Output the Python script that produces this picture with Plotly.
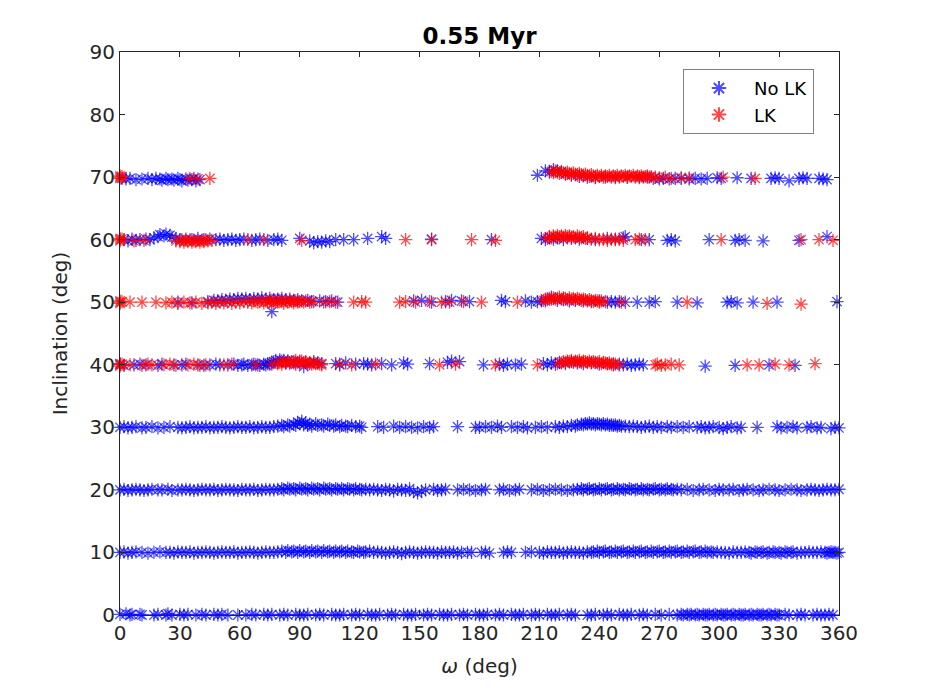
import plotly.graph_objects as go

# ---- data: (omega [deg], inclination [deg]) pairs ----
nolk_00 = [(0,0.1),(1,-0.1),(3,0.2),(5,0),(6,0.1),(8,-0.1),(10,0.1),(11,0),
 (17,0),(19,0.1),(21,-0.1),(23,0),(24,0.2),(26,0),(28,-0.1),(30,0.1),(32,0),(34,0.1),(36,-0.1),(38,0),
 (41,0.1),(43,0),(45,-0.1),(47,0.1),(49,0),(51,0.1),(54,0),(56,-0.1),(59,0),
 (63,0),(66,0.1),(68,0),(70,-0.1),(72,0.1),(74,0),(76,0.1),(78,-0.1),(80,0),(82,0.1),(84,0),(86,-0.1),(88,0.1),(90,0),(92,0),(94,0.1),(96,-0.1),(98,0),(100,0.1),(102,0),(104,-0.1),(106,0.1),(108,0),(110,0),(112,0.1),(114,-0.1),(116,0),(118,0.1),(120,0),(122,-0.1),(124,0.1),(126,0),(128,0),(130,0.1),(132,-0.1),(134,0),(136,0.1),(138,0),(140,-0.1),(142,0.1),(144,0),(146,0),(148,0.1),(150,-0.1),(152,0),(154,0.1),(156,0),(158,-0.1),(160,0.1),(162,0),(164,0),(166,0.1),(168,-0.1),(170,0),(172,0.1),(174,0),(176,-0.1),(178,0.1),(180,0),
 (182,0),(184,0.1),(186,-0.1),(188,0),(190,0.1),(192,0),(194,-0.1),(196,0.1),(198,0),(200,0),(202,0.1),(204,-0.1),(206,0),(208,0.1),(210,0),(212,-0.1),(214,0.1),(216,0),(218,0),(220,0.1),(222,-0.1),(224,0),(226,0.1),(228,0),(231,-0.1),(234,0),(236,0),(238,0.1),(240,-0.1),(242,0),(244,0.1),(246,0),(248,-0.1),(250,0.1),(252,0),(254,0),(256,0.1),(258,-0.1),(260,0),(262,0.1),(264,0),(266,-0.1),(268,0.1),(271,0),(275,0.1),(279,0),
 (281,0.1),(282,0),(283,-0.1),(284,0.1),(285,0),(286,0.1),(287,-0.1),(288,0),(289,0.1),(290,0),(291,-0.1),(292,0.1),(293,0),(294,0),(295,0.1),(296,-0.1),(297,0),(298,0.1),(299,0),(300,-0.1),(301,0.1),(302,0),(303,0),(304,0.1),(305,-0.1),(306,0),(307,0.1),(308,0),(309,-0.1),(310,0.1),(311,0),(312,0),(313,0.1),(314,-0.1),(315,0),(316,0.1),(317,0),(318,-0.1),(319,0.1),(320,0),(321,0),(322,0.1),(323,-0.1),(324,0),(325,0.1),(326,0),(327,-0.1),(328,0.1),(329,0),(330,0),
 (333,0.1),(335,0),(337,-0.1),(339,0),(341,0.1),(343,0),(345,-0.1),(347,0),(349,0.1),(351,0),(353,0),(355,0.1),(357,0)]

nolk_10 = [(0,10),(2,10.1),(4,9.9),(6,10),(8,10.1),(11,10),(14,9.9),(17,10),(20,10.1),(23,10),(25,10),(27,9.9),(29,10.1),(31,10),(33,10),(35,10.1),(37,9.9),(39,10),(41,10),(43,10.1),(45,10),(47,9.9),(49,10),(51,10.1),(53,10),(55,10),(57,10.1),(59,9.9),(61,10),(63,10),(65,10.1),(67,10),(69,9.9),(71,10),(73,10.1),(75,10),(77,10),(79,10.1),
 (81,10.2),(83,10),(84,10.3),(86,10.1),(87,10.2),(89,10),(90,10.3),(92,10.1),(93,10.2),(95,10),(96,10.3),(98,10.1),(99,10.2),(101,10),(102,10.3),(104,10.1),(105,10.2),(107,10),(108,10.2),(110,10.1),(111,10.2),(113,10),(114,10.2),(116,10.1),(117,10),(119,10.2),(120,10.1),(122,10),(123,10.1),(125,10.2),(127,10),(129,10.1),
 (131,10),(133,9.9),(135,10),(137,10.1),(139,10),(141,9.8),(143,10),(145,10.1),(147,10),(149,9.9),(151,10),(153,10.1),(155,10),(157,10),(159,9.9),(161,10.1),(163,10),(165,10),(167,10.1),(169,9.9),(171,10),(174,10),(176,10),
 (181,10),(183,10.1),(185,9.9),(192,10),(194,10.1),(196,10),(203,10),(206,10.1),(210,10),(212,9.9),(214,10.1),(216,10),(218,10),(220,10.1),(222,9.9),(224,10),(226,10.1),(228,10),(230,10),(232,9.9),(234,10.1),
 (236,10),(237,10.1),(239,10.2),(240,10),(242,10.1),(243,10.2),(245,10),(246,10.1),(248,10.2),(249,10),(251,10.1),(252,10.2),(254,10),(255,10.1),(257,10.2),(258,10),(260,10.1),(261,10.2),(263,10),(264,10.1),(266,10.2),(267,10),(269,10.1),(270,10.2),(272,10),(273,10.1),(275,10.2),(276,10),(278,10.1),(279,10.2),(281,10),(282,10.1),(284,10.2),(285,10),(287,10.1),(288,10.2),(290,10),(291,10.1),(293,10.2),(294,10),(296,10.1),(297,10),(299,10.1),(301,10),
 (303,10),(305,9.9),(307,10.1),(309,10),(311,10),(313,10.1),(315,10),(316,9.9),(318,10.1),(319,10),(321,10),(322,10.1),(324,9.9),(325,10),(327,10.1),(328,10),(330,10),(331,9.9),(333,10.1),(334,10),(336,10),(337,10.1),(339,9.9),(341,10),(343,10),(345,10.1),(347,10),(349,10),(351,10.1),(353,10),(354,9.9),(355,10),(356,10.1),(357,10),(358,10),(359,9.9),(360,10)]

nolk_20 = [(0,20),(2,20.1),(4,19.9),(6,20),(8,20.1),(10,20),(12,19.9),(14,20),(16,20.1),(19,20),(21,20),(24,20.1),(26,19.9),(29,20),(31,20),(33,20.1),(35,20),(37,19.9),(39,20),(41,20.1),(43,20),(45,20),(47,20.1),(49,19.9),(51,20),(53,20.1),(55,20),(57,20),(59,19.9),(61,20.1),(63,20),(65,20),(67,20.1),(69,19.9),(71,20),(73,20.1),(75,20),(77,20),(79,20.1),
 (81,20.2),(82,20),(84,20.3),(85,20.1),(87,20.2),(88,20),(90,20.3),(91,20.1),(93,20.2),(94,20),(96,20.3),(97,20.1),(99,20.2),(100,20),(102,20.3),(103,20.1),(105,20.2),(106,20),(108,20.2),(109,20.1),(111,20.2),(112,20),(114,20.2),(115,20.1),(117,20),(118,20.2),(120,20.1),(121,20),(123,20.1),(125,20),(127,20.1),(129,20),
 (131,19.9),(133,20.1),(135,20),(137,19.8),(139,20.1),(141,20),(143,19.9),(145,20.2),(147,19.7),(149,19.5),(151,19.8),(153,20),(157,20.1),(159,19.9),(161,20),(163,20.1),(169,20),(172,20.1),(175,20),(178,19.9),
 (181,20),(183,20.1),(190,20),(192,20.1),(195,19.9),(198,20),(200,20.1),(206,20),(209,20.1),(212,19.9),(215,20),(218,20.1),(221,20),(224,19.9),(227,20),(229,20.1),
 (231,20.2),(232,20),(234,20.1),(235,20.2),(237,20),(238,20.1),(240,20.2),(241,20),(243,20.1),(244,20.2),(246,20),(247,20.1),(249,20.2),(250,20),(252,20.1),(253,20),(255,20.2),(256,20.1),(258,20),(259,20.1),(261,20.2),(262,20),(264,20.1),(265,20),(267,20.1),(268,20.2),(270,20),(271,20.1),(273,20),(274,20.2),(276,20.1),(277,20),(279,20.1),(281,20),
 (284,20.1),(287,19.9),(290,20),(292,20.1),(295,20),(298,19.9),(300,20.1),(302,20),(305,20),(307,20.1),(310,19.9),(312,20),(314,20.1),(317,20),(320,19.9),(322,20),(325,20.1),(328,20),(330,19.9),(333,20),(336,20.1),(339,20),(341,19.9),(344,20),(346,20.1),(348,20),(350,19.9),(352,20),(354,20.1),(356,20),(358,20),(360,20.1)]

nolk_30 = [(0,30),(2,30.1),(4,29.9),(6,30),(8,30.1),(11,29.9),(13,30),(16,30.1),(19,29.9),(22,30),(25,30.1),(29,30),(31,29.9),(33,30),(35,30.1),(37,29.9),(39,30),(41,30),(43,30.1),(45,29.9),(47,30),(49,30),(51,30.1),(53,30),(55,29.9),(57,30),(59,30.1),(61,30),(63,30),(65,30.1),(67,29.9),(69,30),(71,30.1),(73,30),(75,30),(77,30.1),
 (79,30.2),(81,30.3),(82,30.1),(84,30.4),(85,30.2),(87,30.5),(88,30.3),(89,30.8),(90,30.6),(91,31.0),(92,30.4),(93,30.7),(94,30.3),(95,30.5),(96,30.2),(98,30.6),(99,30.3),(101,30.4),(102,30.2),(104,30.5),(105,30.3),(107,30.2),(108,30.4),(110,30.1),(111,30.3),(113,30.2),(114,30.1),(116,30.3),(118,30.1),(120,30.2),(121,30),
 (129,30.1),(132,30),(137,30.2),(140,30),(143,30.1),(146,30),(149,29.9),(152,30.1),(155,30),(157,30.1),(169,30.1),(178,30),
 (180,30),(183,30.1),(186,30),(189,30.2),(191,30),(196,30.1),(199,30),(202,30.1),(204,29.9),(208,30),(211,30.1),(214,30),
 (218,30.1),(220,30),(222,30.2),(224,30.1),(226,30.3),(228,30.2),(229,30.4),(231,30.5),(232,30.4),(233,30.6),(234,30.5),(235,30.7),(236,30.5),(237,30.6),(238,30.4),(239,30.6),(240,30.5),(241,30.4),(242,30.6),(243,30.4),(244,30.5),(245,30.3),(246,30.4),(247,30.3),(248,30.4),(249,30.2),(250,30.3),(251,30.2),(253,30.2),(255,30.1),(257,30.2),(259,30.1),(261,30),(263,30.1),(265,30.2),(267,30),(269,30.1),(271,30),(274,30.1),(276,30),(279,30.1),(282,30),(285,30.1),
 (289,30),(291,30.1),(293,29.9),(295,30),(297,30.1),(300,30),(302,29.8),(304,30),(306,30.1),(309,29.9),(311,30),
 (319,30),(329,30.1),(331,29.9),(334,30),(337,30.1),(339,29.9),(344,30),(346,30.1),(349,29.9),(351,30),(356,29.8),(358,30),(360,29.9)]

nolk_40 = [(0,40.1),(2,39.9),(7,40),(10,40.1),(13,40),(19,39.9),(21,40.1),(27,40),(31,40),(33,40.1),(39,40),(42,39.9),(45,40),(48,40.1),(50,40),(54,40),(57,40.1),(59,39.9),(61,40),(62,40.1),(64,39.9),(66,40),(67,40.1),(69,40),(70,39.9),(72,40.1),(73,40),
 (74,40.2),(75,40.1),(76,40.3),(77,40.5),(78,40.7),(79,40.4),(80,40.8),(81,40.6),(82,40.7),(83,40.3),(84,40.6),(85,40.4),(87,40.5),(88,40.1),(90,40.6),(92,39.7),(93,40.4),(95,40.2),(97,40.5),(99,40.3),(101,40.2),
 (108,40.2),(110,40),(113,40.3),(118,40.1),(122,40.2),(124,40.1),(126,40),(131,40.2),(136,40),(142,40.3),(144,40.1),(155,40.2),(164,40.4),(166,40.6),(170,40.5),
 (182,40),(190,40.1),(192,39.9),(194,40.1),(198,40),(201,40.1),(212,40.2),(214,40),(216,40.3),(218,40.1),(220,40.4),(223,40.2),(226,40.5),(229,40.3),(232,40.2),(236,40.4),(240,40.1),(244,40.2),(247,40),(250,40.1),(252,40),(254,40.1),(256,39.9),(258,40),(260,40.1),(262,40),
 (293,39.8),(308,39.9),(325,40),(338,39.9)]

nolk_50 = [(29,50),(36,49.9),(44,50.1),(47,50.3),(49,50.2),(51,50.4),(53,50.3),(55,50.5),(57,50.4),(59,50.6),(61,50.5),(63,50.6),(65,50.4),(67,50.6),(69,50.5),(71,50.7),(73,50.5),(75,50.6),(76,48.5),(77,50.4),(79,50.5),(81,50.6),(83,50.4),(85,50.5),(87,50.3),(89,50.4),(91,50.2),(94,50.3),(96,50.1),
 (100,50.2),(103,50.1),(106,50.2),(109,50),(147,50.2),(151,50.3),(156,50),(163,50.1),(166,50.3),(171,50.2),(175,50.1),
 (191,50.3),(193,50.1),(203,50.2),(206,50),(209,50.1),(211,50.2),(213,50.2),(216,50.8),(219,50.3),(222,50.4),(225,50.2),(228,50.3),(232,50.2),(236,50.1),(240,50.2),(244,50),(246,50.1),(248,50),(250,50.1),(253,50),
 (259,50),(265,50),(268,50.1),(279,50),(289,49.9),(304,50),(306,50.1),(309,49.9),(317,50),(329,50),(359,50.1)]

nolk_60 = [(2,60),(4,59.8),(6,60.1),(8,59.9),(10,60),(13,60.1),(15,60),(17,60.3),(19,60.5),(20,60.8),(22,60.6),(23,60.9),(25,60.7),(26,60.4),(28,60.2),(30,60),(33,60.1),(36,60),(39,60.2),(42,60),(45,60.1),(48,60),(50,60.1),(52,59.9),(54,60),(56,60.1),(58,59.9),(60,60),(62,60.1),(66,59.9),(68,60),(70,60.1),(74,59.9),(77,60),(79,60.1),(81,59.9),
 (90,60.2),(95,59.8),(97,59.5),(99,59.7),(101,59.6),(103,59.8),(105,59.7),(108,60),(112,60),(117,60),(124,60.2),(131,60.5),(133,60.2),(156,60.1),
 (186,60),(211,60.2),(213,60),(215,60.4),(217,60.1),(219,60.3),(222,60),(226,60.2),(230,60.1),(234,60.2),(238,60),(244,60.2),(248,60.1),(252,60.3),(253,60.5),(261,60),(265,60),(274,59.9),(276,60),(278,59.8),
 (295,60),(308,59.9),(310,60),(313,59.9),(322,59.8),(340,59.9),(354,60.5)]

nolk_70 = [(1,69.8),(3,69.7),(5,69.8),(8,69.6),(11,69.7),(14,69.8),(16,69.6),(18,69.8),(20,69.7),(21,69.5),(23,69.8),(24,69.6),(26,69.7),(27,69.5),(29,69.8),(30,69.6),(31,69.4),(33,69.7),(34,69.5),(36,69.6),(37,69.8),(38,69.4),(40,69.6),
 (209,70.3),(213,71),(215,70.8),(217,71.2),(219,71),(221,70.8),(223,70.5),(226,70.3),(230,70.1),(234,70),(238,69.9),(243,70),(248,69.9),(254,70),(260,69.9),(264,70),(267,69.8),(270,69.7),(272,69.8),(275,69.7),(278,69.8),(281,69.8),(285,69.7),(288,69.8),(291,69.7),(294,69.8),
 (299,69.9),(301,69.8),(309,69.9),(316,69.8),(326,69.8),(328,69.9),(330,69.8),(335,69.4),(340,69.8),(342,69.9),(344,69.8),(350,69.8),(352,69.7),(354,69.6)]

lk_40 = [(0,40),(0,40.2),(0,39.8),(1,40.1),(5,40),(11,39.9),(14,40.1),(16,40),(22,40),(25,40.1),(28,39.9),(34,40),(37,40.1),(40,39.9),(43,40),(52,40),(56,40.1),(68,40),
 (76,40.1),(79,40.2),(80,40.4),(81,40.1),(82,40.5),(83,40.3),(84,40.6),(85,40.2),(86,40.5),(87,40.3),(88,40.7),(89,40.4),(90,40.2),(91,40.6),(92,40.3),(93,40.5),(94,40.2),(95,40.4),(96,40.1),(97,40.3),(98,40.2),(100,40.1),(101,40),
 (110,40.1),(116,40),(128,40.1),(160,40),(168,40.1),(188,40),(209,40),
 (219,40.2),(221,40.3),(222,40.5),(223,40.4),(224,40.6),(225,40.5),(226,40.7),(227,40.4),(228,40.6),(229,40.5),(230,40.7),(231,40.4),(232,40.6),(233,40.5),(234,40.4),(235,40.6),(236,40.3),(237,40.5),(238,40.4),(239,40.3),(240,40.5),(241,40.2),(242,40.4),(243,40.3),(244,40.2),(245,40.3),(246,40.1),(247,40.2),(248,40.1),(250,40),
 (268,40),(269,40.1),(271,39.9),(273,40),(276,40.1),(280,40),(314,40),(320,40),(328,40.1),(335,40),(348,40.2)]

lk_50 = [(0,50),(0,50.2),(0,49.8),(1,50.1),(5,50),(11,50),(18,50),(23,49.9),(26,50),(29,49.8),(32,50),(35,49.9),(38,50),(41,49.8),(44,49.9),(46,50),(48,49.8),(50,50),(52,49.9),(54,50.1),(56,49.8),(58,50),(60,49.9),(62,50.1),(64,50),(66,49.9),(67,50.2),(69,50),(70,50.1),(72,49.9),(73,50.2),(74,50),(75,50.1),(76,50.3),(77,49.9),(78,50.2),(79,50),(80,50.3),(81,50.1),(82,49.8),(83,50.2),(84,50),(85,50.3),(86,50.1),(87,49.9),(88,50.2),(89,50),(90,50.1),(92,50),(93,50.2),(95,50),(97,50.1),
 (102,50),(105,50.1),(108,50),(117,50),(121,50.1),(123,50),(140,50),(143,50.1),(148,50),(155,50.1),(161,50),(165,50),(172,50.1),(181,50),(199,50),
 (212,50.3),(213,50.5),(214,50.4),(215,50.6),(216,50.5),(217,50.7),(218,50.5),(219,50.6),(220,50.8),(221,50.5),(222,50.7),(223,50.6),(224,50.4),(225,50.7),(226,50.5),(227,50.6),(228,50.4),(229,50.6),(230,50.5),(231,50.3),(232,50.5),(233,50.4),(234,50.2),(235,50.4),(236,50.3),(237,50.1),(238,50.3),(239,50.2),(240,50),(241,50.2),(243,50.1),
 (251,50),(284,50),(324,49.8),(341,49.7)]

lk_60 = [(0,60),(0,60.2),(0,59.8),(1,60.1),(7,59.8),(12,59.9),(28,59.8),(30,59.7),(31,60),(32,59.6),(33,59.9),(34,59.7),(35,60),(36,59.6),(37,59.8),(38,59.7),(39,59.9),(40,59.6),(41,59.8),(42,59.7),(43,60),(44,59.8),(46,59.9),
 (64,60),(72,60),(91,59.9),(143,60),(156,60),(176,60),(188,59.9),
 (214,60.2),(215,60.5),(216,60.3),(217,60.6),(218,60.4),(219,60.7),(220,60.5),(221,60.6),(222,60.4),(223,60.7),(224,60.5),(225,60.6),(226,60.4),(227,60.5),(228,60.3),(229,60.6),(230,60.4),(231,60.3),(232,60.5),(233,60.2),(234,60.3),(236,60.1),(238,60.2),(240,60),(242,60.1),(244,59.9),(246,60.1),(248,60),(250,60.1),(252,59.9),
 (258,60),(260,60.1),(263,60),(301,60),(341,60),(350,60),(357,59.9)]

lk_70 = [(0,70),(0,70.2),(0,69.8),(1,70.1),(35,69.8),(39,69.7),(45,69.8),
 (216,70.9),(217,70.7),(218,71),(219,70.8),(220,70.6),(221,70.9),(222,70.7),(223,70.5),(224,70.8),(225,70.6),(226,70.4),(227,70.7),(228,70.5),(229,70.3),(230,70.6),(231,70.4),(232,70.2),(233,70.5),(234,70.3),(235,70.1),(236,70.4),(237,70.2),(238,70),(239,70.3),(240,70.1),(241,70.3),(242,70),(243,70.2),(244,70.1),(245,70.3),(246,70),(247,70.2),(248,70.1),(249,70.3),(250,70),(251,70.2),(252,70.1),(253,70.3),(254,70),(255,70.2),(256,70.1),(257,70.3),(258,70),(259,70.2),(260,70.1),(261,70.2),(262,70),(263,70.1),(264,70.2),(265,70),(266,70.1),
 (268,70),(270,69.9),(273,70),(276,69.8),(281,69.9),(285,69.9),(302,70),(318,69.8)]

x_ticks = [0, 30, 60, 90, 120, 150, 180, 210, 240, 270, 300, 330, 360]
y_ticks = [0, 10, 20, 30, 40, 50, 60, 70, 80, 90]
series_names = ["No LK", "LK"]
title_text = "0.55 Myr"

nolk = nolk_00 + nolk_10 + nolk_20 + nolk_30 + nolk_40 + nolk_50 + nolk_60 + nolk_70
lk = lk_40 + lk_50 + lk_60 + lk_70

FONT = "DejaVu Sans"
TXT = "#262626"

def star(col):
    return dict(symbol="asterisk-open", size=11, color=col, line=dict(width=1.3, color=col))

fig = go.Figure()
fig.add_trace(go.Scatter(x=[p[0] for p in nolk], y=[p[1] for p in nolk], mode="markers",
                         name=series_names[0], marker=star("rgba(0,0,255,0.7)"), cliponaxis=False))
fig.add_trace(go.Scatter(x=[p[0] for p in lk], y=[p[1] for p in lk], mode="markers",
                         name=series_names[1], marker=star("rgba(255,0,0,0.72)"), cliponaxis=False))

axis_common = dict(showgrid=False, zeroline=False, showline=True, linecolor=TXT, linewidth=1,
                   mirror="ticks", ticks="inside", ticklen=5, tickcolor=TXT,
                   tickfont=dict(family=FONT, size=20, color=TXT))

# the page body adds an 8 px offset; margins are chosen so the axes box lands at x 120-839, y 52-615
fig.update_layout(
    width=928, height=692,
    margin=dict(l=112, r=97, t=44, b=85),
    paper_bgcolor="white", plot_bgcolor="white",
    font=dict(family=FONT, color=TXT),
    title=dict(text="<b>" + title_text + "</b>", x=(112 + 831) / 2 / 928, xanchor="center",
               y=1 - 28 / 692, yanchor="middle", yref="container",
               font=dict(family=FONT, size=23, color="black")),
    xaxis=dict(range=[0, 360], tickvals=x_ticks, title=dict(text="<i>ω</i> (deg)", font=dict(size=20, color=TXT), standoff=14),
               **axis_common),
    yaxis=dict(range=[0, 90], tickvals=y_ticks, title=dict(text="Inclination (deg)", font=dict(size=20, color=TXT), standoff=16),
               **axis_common),
    legend=dict(x=0.783, y=0.970, xanchor="left", yanchor="top", bgcolor="white",
                bordercolor="#808080", borderwidth=1, font=dict(family=FONT, size=18, color="black"),
                itemsizing="constant", itemwidth=60, tracegroupgap=0),
)

fig.write_html("out.html")
